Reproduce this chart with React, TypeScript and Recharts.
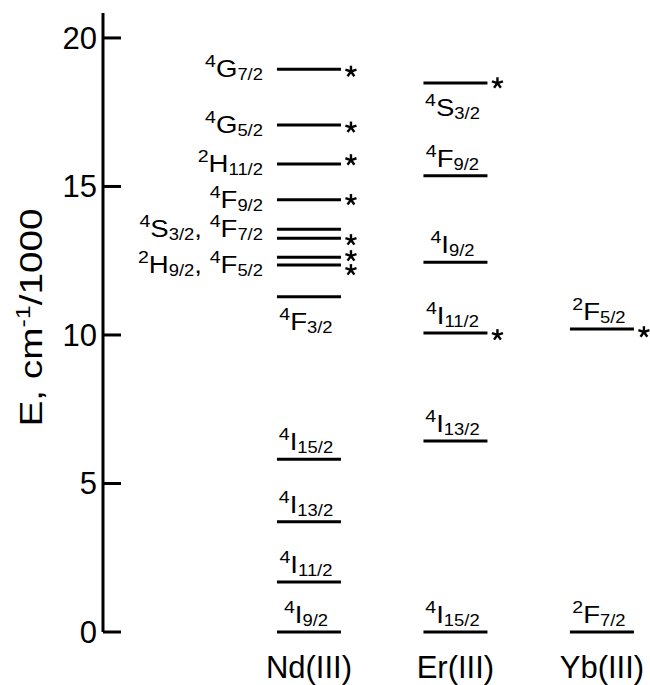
import React from "react";
import { ScatterChart, Scatter, XAxis, YAxis } from "recharts";

// ---------------------------------------------------------------------------
// Data (energies in cm^-1 / 1000)
// ---------------------------------------------------------------------------

const categories = ["Nd(III)", "Er(III)", "Yb(III)"];

const ndEnergies = [0, 1.68, 3.71, 5.82, 11.29, 12.36, 12.62, 13.26, 13.56, 14.55, 15.76, 17.07, 18.95];
const ndLabels = ["4I9/2", "4I11/2", "4I13/2", "4I15/2", "4F3/2", "2H9/2, 4F5/2", "", "", "4S3/2, 4F7/2", "4F9/2", "2H11/2", "4G5/2", "4G7/2"];
const ndSides = ["above", "above", "above", "above", "below", "left", "", "", "left", "left", "left", "left", "left"];
const ndStars = [18.87, 16.99, 15.89, 14.55, 13.2, 12.66, 12.19];

const erEnergies = [0, 6.43, 10.07, 12.45, 15.36, 18.48];
const erLabels = ["4I15/2", "4I13/2", "4I11/2", "4I9/2", "4F9/2", "4S3/2"];
const erSides = ["above", "above", "above", "above", "above", "below"];
const erStars = [18.48, 10.0];

const ybEnergies = [0, 10.2];
const ybLabels = ["2F7/2", "2F5/2"];
const ybSides = ["above", "above"];
const ybStars = [10.1];

const yTicks = [0, 5, 10, 15, 20];

// ---------------------------------------------------------------------------
// Build scatter rows
// ---------------------------------------------------------------------------

const levelRows = [
  ...ndEnergies.map((y, i) => ({ x: 0, y, label: ndLabels[i], side: ndSides[i] })),
  ...erEnergies.map((y, i) => ({ x: 1, y, label: erLabels[i], side: erSides[i] })),
  ...ybEnergies.map((y, i) => ({ x: 2, y, label: ybLabels[i], side: ybSides[i] })),
];

const starRows = [
  ...ndStars.map((y) => ({ x: 0, y })),
  ...erStars.map((y) => ({ x: 1, y })),
  ...ybStars.map((y) => ({ x: 2, y })),
];

const FONT = '"Liberation Sans", Arial, Helvetica, sans-serif';
const HALF = 32;

// term symbol like "4F3/2": superscript multiplicity, letter, subscript J
function TermText({ x, y, text, anchor }: { x: number; y: number; text: string; anchor: string }) {
  const nodes: React.ReactNode[] = [];
  text.split(", ").forEach((t, i) => {
    if (i > 0) {
      nodes.push(<tspan key={`c${i}`} fontSize={24} dy={-3}>{", "}</tspan>);
    }
    nodes.push(<tspan key={`p${i}`} fontSize={17} dy={-10}>{t[0]}</tspan>);
    nodes.push(<tspan key={`m${i}`} fontSize={24} dy={10}>{t[1]}</tspan>);
    nodes.push(<tspan key={`s${i}`} fontSize={16} dy={3}>{t.slice(2)}</tspan>);
  });
  return (
    <text
      transform={`translate(${x},${y}) scale(1.15,1)`}
      textAnchor={anchor as any}
      fontFamily={FONT}
      fill="#000"
      style={{ whiteSpace: "pre" }}
    >
      {nodes}
    </text>
  );
}

const LevelShape = (props: any) => {
  const { cx, cy, payload } = props;
  let label = null;
  if (payload.label) {
    if (payload.side === "left") {
      label = <TermText x={cx - HALF - 14} y={cy + 8} text={payload.label} anchor="end" />;
    } else if (payload.side === "below") {
      label = <TermText x={cx - 3} y={cy + 33} text={payload.label} anchor="middle" />;
    } else {
      label = <TermText x={cx - 3} y={cy - 9} text={payload.label} anchor="middle" />;
    }
  }
  return (
    <g>
      <line x1={cx - HALF} x2={cx + HALF} y1={cy} y2={cy} stroke="#000" strokeWidth={3} />
      {label}
    </g>
  );
};

const StarShape = (props: any) => {
  const { cx, cy } = props;
  const sx = cx + HALF + 10;
  const angles = [-90, -18, 54, 126, 198];
  return (
    <g>
      {angles.map((a) => {
        const r = (a * Math.PI) / 180;
        return (
          <line
            key={a}
            x1={sx}
            y1={cy}
            x2={sx + 5.8 * Math.cos(r)}
            y2={cy + 5.8 * Math.sin(r)}
            stroke="#000"
            strokeWidth={2.4}
          />
        );
      })}
    </g>
  );
};

const YTick = (props: any) => {
  const { x, y, payload } = props;
  return (
    <g>
      <line x1={x + 6} x2={x + 24} y1={y} y2={y} stroke="#000" strokeWidth={3} />
      <text x={x} y={y} dy={11} textAnchor="end" fontSize={31} fontFamily={FONT} fill="#000">
        {payload.value}
      </text>
    </g>
  );
};

const XTick = (props: any) => {
  const { x, y, payload } = props;
  return (
    <text x={x} y={y} dy={46} textAnchor="middle" fontSize={31} fontFamily={FONT} fill="#000">
      {categories[payload.value]}
    </text>
  );
};

const YTitle = (props: any) => {
  const { viewBox } = props;
  const x = viewBox.x + 42;
  const y = viewBox.y + viewBox.height / 2 - 5;
  return (
    <text
      transform={`translate(${x},${y}) rotate(-90) scale(1.25,1)`}
      textAnchor="middle"
      fontSize={31}
      fontFamily={FONT}
      fill="#000"
    >
      E, cm
      <tspan fontSize={20} dy={-12}>-1</tspan>
      <tspan dy={12}>/1000</tspan>
    </text>
  );
};

export default function App() {
  return (
    <div style={{ position: "absolute", left: 0, top: 0, width: 650, height: 685, background: "#fff" }}>
      <ScatterChart width={650} height={685} margin={{ top: 13, right: 5, bottom: 0, left: 0 }}>
        <XAxis
          type="number"
          dataKey="x"
          domain={[-1.406, 2.294]}
          ticks={[0, 1, 2]}
          interval={0}
          axisLine={false}
          tickLine={false}
          tickSize={0}
          tickMargin={0}
          height={53}
          tick={<XTick />}
        />
        <YAxis
          type="number"
          dataKey="y"
          domain={[0, 20.84]}
          ticks={yTicks}
          interval={0}
          width={103}
          tickLine={false}
          tickSize={0}
          tickMargin={6}
          axisLine={{ stroke: "#000", strokeWidth: 3 }}
          tick={<YTick />}
          label={<YTitle />}
        />
        <Scatter data={levelRows} shape={<LevelShape />} isAnimationActive={false} />
        <Scatter data={starRows} shape={<StarShape />} isAnimationActive={false} />
      </ScatterChart>
    </div>
  );
}
